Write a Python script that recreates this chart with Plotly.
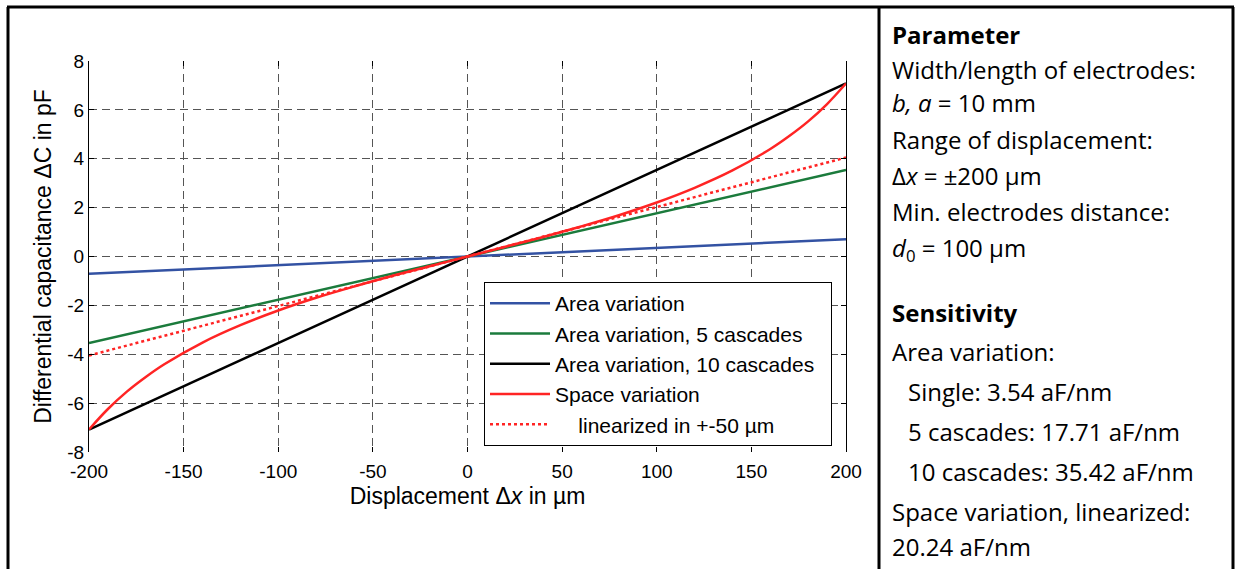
import plotly.graph_objects as go

# ── Data ──────────────────────────────────────────────────────────────────────
x_area = [-200, -100, 0, 100, 200]
area_single = [-0.71, -0.35, 0.0, 0.35, 0.71]

x_casc = [-200, 0, 200]
area_5 = [-3.54, 0.0, 3.54]
area_10 = [-7.08, 0.0, 7.08]

x_space = [-200, -190, -180, -170, -160, -140, -120, -100, -80, -60, -40, -20, 0,
           20, 40, 60, 80, 100, 120, 140, 160, 170, 180, 190, 200]
space_var = [-7.08, -6.24, -5.53, -4.93, -4.40, -3.52, -2.81, -2.21, -1.69, -1.23, -0.80, -0.40, 0.0,
             0.40, 0.80, 1.23, 1.69, 2.21, 2.81, 3.52, 4.40, 4.93, 5.53, 6.24, 7.08]

x_lin = [-200, 200]
space_lin = [-4.05, 4.05]

x_ticks = [-200, -150, -100, -50, 0, 50, 100, 150, 200]
y_ticks = [-8, -6, -4, -2, 0, 2, 4, 6, 8]

param_lines = [
    "<b>Parameter</b>",
    "Width/length of electrodes:",
    "<i>b, a</i> = 10 mm",
    "Range of displacement:",
    "Δ<i>x</i> = ±200 µm",
    "Min. electrodes distance:",
    "<i>d</i><sub>0</sub> = 100 µm",
    "<b>Sensitivity</b>",
    "Area variation:",
    "   Single: 3.54 aF/nm",
    "   5 cascades: 17.71 aF/nm",
    "   10 cascades: 35.42 aF/nm",
    "Space variation, linearized:",
    "20.24 aF/nm",
]
param_y = [35, 69, 103, 139, 175, 211, 249, 312, 351, 391, 431, 471, 511, 546]

# ── Geometry (pixels) ─────────────────────────────────────────────────────────
W, H = 1235, 569
L, R, T, B = 89, 846, 61, 452


def px_x(p):
    return (p - L) / (R - L)


def px_y(p):
    return (B - p) / (B - T)


AX_FONT = "Liberation Sans, Arial, sans-serif"
TXT_FONT = "Open Sans, Calibri, sans-serif"

fig = go.Figure()
series = [
    (x_area, area_single, "Area variation", "#3352a3", "solid"),
    (x_casc, area_5, "Area variation, 5 cascades", "#1b7b3c", "solid"),
    (x_casc, area_10, "Area variation, 10 cascades\u00a0\u00a0", "#000000", "solid"),
    (x_space, space_var, "Space variation", "#ff2424", "solid"),
    (x_lin, space_lin, "\u00a0\u00a0\u00a0\u00a0linearized in +-50 µm", "#ff2424", "3px,3px"),
]
for i, (xs, ys, name, clr, dash) in enumerate(series):
    fig.add_trace(go.Scatter(
        x=xs, y=ys, name=name, mode="lines", legendgroup=f"g{i}",
        line=dict(color=clr, width=2.5, dash=dash, shape="spline" if len(xs) > 5 else "linear"),
    ))

fig.update_xaxes(
    range=[-200, 200], tickvals=x_ticks, ticktext=[str(v) for v in x_ticks],
    showgrid=True, gridcolor="#555555", gridwidth=1, griddash="8px,5px",
    zeroline=False, showline=False, ticks="inside", ticklen=5, tickcolor="#000",
    mirror="ticks", ticklabelstandoff=6,
    tickfont=dict(family=AX_FONT, size=19, color="#000"),
    title=dict(text="Displacement Δ<i>x</i> in µm", font=dict(family=AX_FONT, size=23, color="#000"),
               standoff=6),
)
fig.update_yaxes(
    range=[-8, 8], tickvals=y_ticks, ticktext=[str(v) for v in y_ticks],
    showgrid=True, gridcolor="#555555", gridwidth=1, griddash="8px,5px",
    zeroline=False, showline=True, linecolor="#000", linewidth=1,
    ticks="inside", ticklen=5, tickcolor="#000", mirror="ticks",
    tickfont=dict(family=AX_FONT, size=19, color="#000"),
    title=dict(text="Differential capacitance ΔC in pF", font=dict(family=AX_FONT, size=23, color="#000"),
               standoff=9),
)

shapes = [
    # outer frame and divider of the table
    dict(type="line", xref="paper", yref="paper", x0=px_x(8), x1=px_x(8), y0=px_y(7), y1=px_y(600),
         line=dict(color="#000", width=3)),
    dict(type="line", xref="paper", yref="paper", x0=px_x(7), x1=px_x(1234), y0=px_y(7), y1=px_y(7),
         line=dict(color="#000", width=3)),
    dict(type="line", xref="paper", yref="paper", x0=px_x(879), x1=px_x(879), y0=px_y(7), y1=px_y(600),
         line=dict(color="#000", width=3)),
    dict(type="line", xref="paper", yref="paper", x0=px_x(1233), x1=px_x(1233), y0=px_y(7), y1=px_y(600),
         line=dict(color="#000", width=3)),
]

annotations = []
for txt, py in zip(param_lines, param_y):
    indent = txt.startswith("   ")
    annotations.append(dict(
        text=txt.strip(), xref="paper", yref="paper", x=px_x(906 if indent else 890), y=px_y(py),
        xanchor="left", yanchor="middle", showarrow=False,
        font=dict(family=TXT_FONT, size=24, color="#000"),
    ))

fig.update_layout(
    width=W, height=H,
    margin=dict(l=L, r=W - R, t=T, b=H - B),
    paper_bgcolor="white", plot_bgcolor="white",
    shapes=shapes, annotations=annotations,
    legend=dict(
        x=px_x(484), y=px_y(282), xanchor="left", yanchor="top",
        bgcolor="white", bordercolor="#000", borderwidth=1,
        font=dict(family=AX_FONT, size=21, color="#000"),
        itemwidth=60, tracegroupgap=0,
    ),
)

# page body margin would shift the whole picture by 8 px
fig.write_html("out.html", config={"displayModeBar": False},
               post_script="document.body.style.margin='0';")
